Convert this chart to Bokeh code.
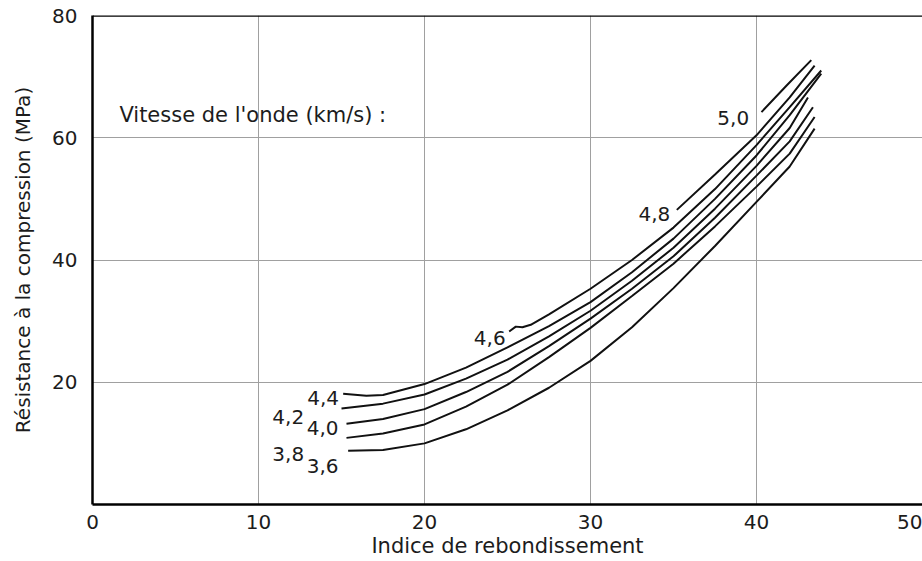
from bokeh.plotting import figure
from bokeh.models import Range1d, FixedTicker, Label, Span
from bokeh.core.properties import value
from bokeh.embed import file_html
from bokeh.resources import INLINE

# ---- data ----
curve_labels = ["3,6", "3,8", "4,0", "4,2", "4,4", "4,6", "4,8", "5,0"]

x_36 = [15.4, 17.5, 20, 22.5, 25, 27.5, 30, 32.5, 35, 37.5, 40, 42, 43.5]
y_36 = [8.8, 8.9, 10.0, 12.3, 15.4, 19.1, 23.5, 29.0, 35.4, 42.3, 49.5, 55.3, 61.5]

x_38 = [15.3, 17.5, 20, 22.5, 25, 27.5, 30, 32.5, 35, 37.5, 40, 42, 43.5]
y_38 = [10.9, 11.6, 13.1, 16.0, 19.6, 24.1, 28.9, 34.1, 39.4, 45.5, 52.0, 57.4, 63.4]

x_40 = [15.3, 17.5, 20, 22.5, 25, 27.5, 30, 32.5, 35, 37.5, 40, 42, 43.4]
y_40 = [13.2, 14.0, 15.6, 18.4, 21.7, 25.9, 30.4, 35.3, 40.6, 46.9, 53.8, 59.4, 65.0]

x_42 = [15.0, 17.5, 20, 22.5, 25, 27.5, 30, 32.5, 35, 37.5, 40, 42, 43.1]
y_42 = [15.7, 16.5, 18.0, 20.6, 23.7, 27.5, 31.7, 36.6, 42.0, 48.4, 55.4, 61.6, 66.6]

x_44 = [15.1, 16.5, 17.5, 20, 22.5, 25, 27.5, 30, 32.5, 35, 37.5, 40, 42, 43.9]
y_44 = [18.1, 17.8, 17.9, 19.7, 22.4, 25.7, 29.2, 33.1, 38.0, 43.5, 50.0, 57.1, 63.7, 70.5]

x_46 = [25.1, 25.5, 25.9, 26.4, 27.5, 30, 32.5, 35, 37.5, 40, 42, 43.9]
y_46 = [28.3, 29.1, 29.0, 29.4, 31.1, 35.3, 40.0, 45.3, 51.6, 58.8, 65.0, 71.0]

x_48 = [35.2, 37.5, 40, 42, 43.5]
y_48 = [48.2, 54.0, 60.4, 66.6, 71.8]

x_50 = [40.3, 41.8, 43.3]
y_50 = [64.2, 68.5, 72.7]

x_ticks = [0, 10, 20, 30, 40, 50]
y_ticks = [20, 40, 60, 80]
grid_x = [10, 20, 30, 40]
grid_y = [20, 40, 60, 80]

series_x = [x_36, x_38, x_40, x_42, x_44, x_46, x_48, x_50]
series_y = [y_36, y_38, y_40, y_42, y_44, y_46, y_48, y_50]

# label anchor positions (layout)
lab_x = [13.86, 11.79, 13.86, 11.79, 13.89, 23.93, 33.85, 38.6]
lab_y = [6.22, 8.18, 12.52, 14.29, 17.35, 27.17, 47.6, 63.2]

FONT = "DejaVu Sans"
TXT = "#1c1c1c"

p = figure(width=922, height=561, x_range=Range1d(0, 50.0), y_range=Range1d(0, 80),
           output_backend="svg", toolbar_location=None,
           min_border_left=92, min_border_right=0, min_border_top=15, min_border_bottom=57)
p.outline_line_color = None
p.background_fill_color = "white"
p.border_fill_color = "white"

for ax in (p.xaxis, p.yaxis):
    ax.axis_line_color = "black"
    ax.axis_line_width = 2.5
    ax.major_tick_line_color = None
    ax.minor_tick_line_color = None
    ax.major_label_text_font = FONT
    ax.major_label_text_font_size = "20px"
    ax.major_label_text_color = TXT
    ax.axis_label_text_font = FONT
    ax.axis_label_text_font_style = "normal"
    ax.axis_label_text_color = TXT

p.xaxis.ticker = FixedTicker(ticks=x_ticks)
p.yaxis.ticker = FixedTicker(ticks=y_ticks)
p.xaxis.major_label_standoff = 4
p.yaxis.major_label_standoff = 9
p.xaxis.axis_label = "Indice de rebondissement"
p.xaxis.axis_label_text_font_size = "21px"
p.xaxis.axis_label_standoff = 2
p.yaxis.axis_label = "Résistance à la compression (MPa)"
p.yaxis.axis_label_text_font_size = "20px"
p.yaxis.axis_label_standoff = 14

p.xgrid.ticker = FixedTicker(ticks=grid_x)
p.ygrid.ticker = FixedTicker(ticks=grid_y)
for g in (p.xgrid, p.ygrid):
    g.grid_line_color = "#a0a0a0"
    g.grid_line_width = 1

p.add_layout(Span(location=80, dimension="width", line_color="black", line_width=2.5))

for xs, ys in zip(series_x, series_y):
    p.line(xs, ys, line_color="#111111", line_width=2)

p.text(x=lab_x, y=lab_y, text=curve_labels, text_font=value(FONT), text_font_size="20px",
       text_color=TXT, text_align="center", text_baseline="middle")

p.add_layout(Label(x=1.62, y=63.8, text="Vitesse de l'onde (km/s) :", text_font=FONT,
                   text_font_size="21px", text_color=TXT, text_baseline="alphabetic"))

open("out.html", "w").write(file_html(p, INLINE))
